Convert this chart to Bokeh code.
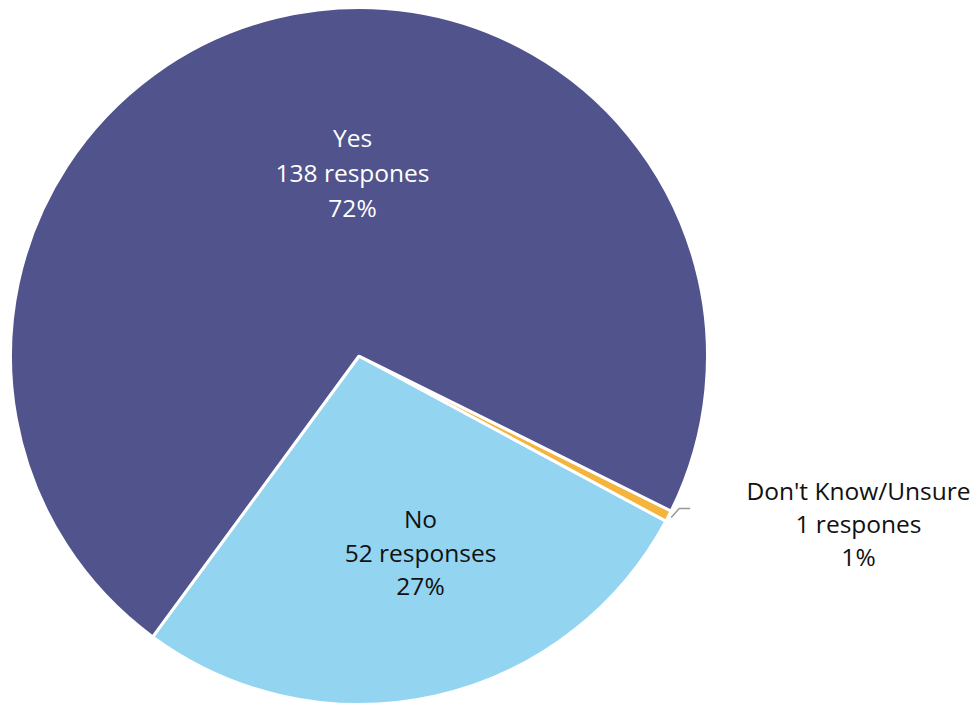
import math
from bokeh.plotting import figure
from bokeh.models import ColumnDataSource
from bokeh.core.properties import value
from bokeh.embed import file_html
from bokeh.resources import INLINE

# ---- data ----
categories = ["No", "Don't Know/Unsure", "Yes"]
counts = [52, 1, 138]
unit_words = ["responses", "respones", "respones"]
percent_labels = ["27%", "1%", "72%"]
colors = ["#93D4F0", "#F5B43C", "#50538C"]
text_colors = ["#111111", "#111111", "#FFFFFF"]

W, H = 976, 705
p = figure(width=W, height=H, x_range=(0, W), y_range=(0, H),
           output_backend="svg", toolbar_location=None,
           min_border=0, outline_line_color=None)
p.axis.visible = False
p.grid.visible = False
p.background_fill_color = "white"
p.border_fill_color = "white"

cx, cy, R = 358.5, 349.5, 348.5
start0 = math.radians(-126.3)
total = sum(counts)
starts, ends = [], []
a = start0
for c in counts:
    starts.append(a)
    a += 2 * math.pi * c / total
    ends.append(a)

src = ColumnDataSource(dict(start=starts, end=ends, color=colors))
p.wedge(x=cx, y=cy, radius=R, start_angle="start", end_angle="end",
        fill_color="color", line_color="white", line_width=3, source=src)

# leader line for the small slice
mid = (starts[1] + ends[1]) / 2
x0 = cx + (R + 3) * math.cos(mid)
y0 = cy + (R + 3) * math.sin(mid)
x1, y1 = x0 + 8, y0 + 9
x2 = x1 + 11
p.line([x0, x1, x2], [y0, y1, y1], line_color="#999999", line_width=1.5)

# labels (anchor centre x, first line y)
label_pos = {0: (420, 705 - 518), 1: (858, 705 - 490), 2: (352, 705 - 137)}
line_gap = [33.5, 33, 35]
fs = "24.5px"
for i in range(len(categories)):
    lx, ly = label_pos[i]
    lines = [categories[i], f"{counts[i]} {unit_words[i]}", percent_labels[i]]
    for k, t in enumerate(lines):
        p.text(x=[lx], y=[ly - k * line_gap[i]], text=[t],
               text_font=value("Open Sans"), text_font_size=fs,
               text_align="center", text_baseline="middle",
               text_color=text_colors[i])

open("out.html", "w").write(file_html(p, INLINE))
